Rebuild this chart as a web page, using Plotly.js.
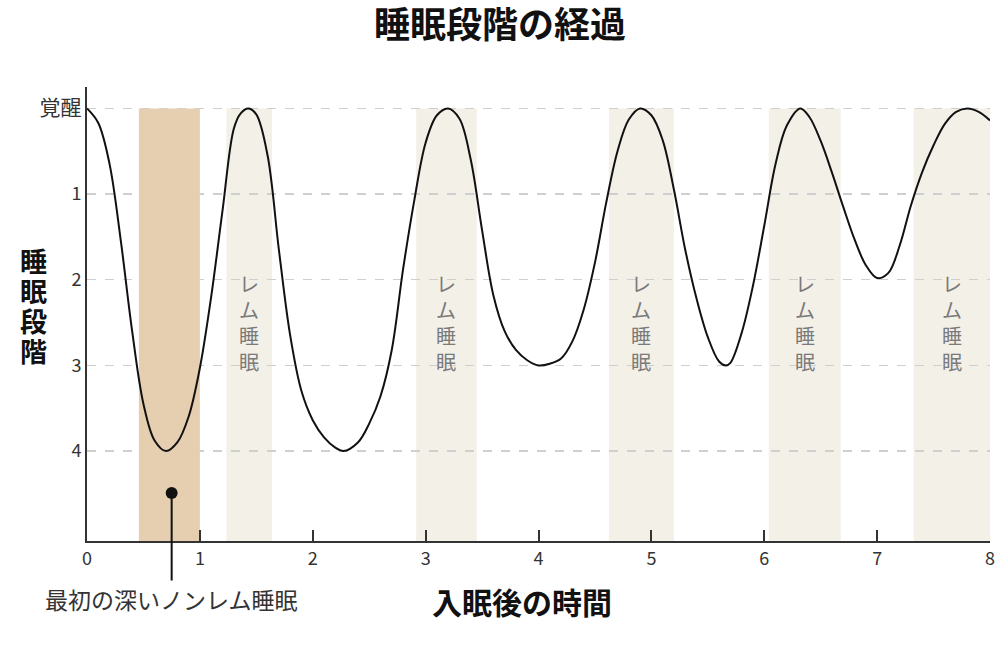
<!DOCTYPE html>
<html>
<head>
<meta charset="utf-8">
<script src="https://cdn.plot.ly/plotly-3.0.1.min.js"></script>
<style>
html,body{margin:0;padding:0;background:#fff;}
#chart{width:1000px;height:650px;}
</style>
</head>
<body>
<div id="chart"></div>
<script>
// ---- data ----
const hours = [0.0, 0.1, 0.2, 0.3, 0.4, 0.5, 0.6, 0.7, 0.8, 0.9,
               1.0, 1.1, 1.2, 1.3, 1.36, 1.43, 1.5, 1.6, 1.7, 1.8, 1.9,
               2.0, 2.1, 2.2, 2.27, 2.4, 2.5, 2.6, 2.7, 2.8, 2.9,
               3.0, 3.1, 3.2, 3.3, 3.4, 3.5, 3.6, 3.7, 3.8, 3.9,
               4.0, 4.1, 4.2, 4.3, 4.4, 4.5, 4.6, 4.7, 4.8, 4.9,
               5.0, 5.1, 5.2, 5.3, 5.4, 5.5, 5.6, 5.66, 5.7, 5.8, 5.9,
               6.0, 6.1, 6.2, 6.32, 6.4, 6.5, 6.6, 6.7, 6.8, 6.9,
               7.0, 7.1, 7.2, 7.3, 7.4, 7.5, 7.6, 7.7, 7.8, 7.9, 8.0];
const stage = [0.0, 0.17, 0.65, 1.55, 2.6, 3.45, 3.88, 4.0, 3.9, 3.6,
               3.03, 2.2, 1.2, 0.24, 0.06, 0.0, 0.07, 0.55, 1.65, 2.65, 3.3,
               3.64, 3.84, 3.96, 4.0, 3.9, 3.68, 3.36, 2.82, 1.88, 1.07,
               0.4, 0.08, 0.0, 0.12, 0.6, 1.42, 2.18, 2.6, 2.82, 2.94,
               3.0, 2.98, 2.92, 2.72, 2.35, 1.8, 1.1, 0.5, 0.13, 0.0,
               0.08, 0.37, 0.95, 1.65, 2.22, 2.67, 2.955, 3.0, 2.97, 2.62, 2.07,
               1.37, 0.65, 0.2, 0.0, 0.1, 0.38, 0.75, 1.15, 1.53, 1.83,
               1.98, 1.92, 1.6, 1.13, 0.74, 0.43, 0.18, 0.04, 0.0, 0.04, 0.14];

const remStart = [1.235, 2.916, 4.624, 6.04, 7.323];
const remEnd   = [1.64, 3.453, 5.199, 6.677, 8.0];
const remLabel = "レム睡眠";

const deepStart = 0.46;
const deepEnd = 1.0;
const deepLabel = "最初の深いノンレム睡眠";
const calloutX = [0.75];
const calloutY = [4.49];

const stageTickVals = [0, 1, 2, 3, 4];
const stageTickText = ["覚醒", "1", "2", "3", "4"];
const hourTickVals = [0, 1, 2, 3, 4, 5, 6, 7, 8];

const chartTitle = "睡眠段階の経過";
const xTitle = "入眠後の時間";
const yTitle = "睡眠段階";

// ---- layout helpers ----
const FONT = "'Noto Sans CJK JP', 'Noto Sans', sans-serif";
const yBottom = 5.05, yTop = -0.25;
const plotTop = 87, plotBottom = 541, plotLeft = 87, plotRight = 990;
const pyToPaper = py => (plotBottom - py) / (plotBottom - plotTop);
const pxToPaper = px => (px - plotLeft) / (plotRight - plotLeft);
const stacked = s => s.split("").join("<br>");

const shapes = [];
remStart.forEach((s, i) => {
  shapes.push({type: "rect", xref: "x", yref: "y", x0: s, x1: remEnd[i], y0: 0, y1: yBottom,
    fillcolor: "#f3f0e8", line: {width: 0}, layer: "below"});
});
shapes.push({type: "rect", xref: "x", yref: "y", x0: deepStart, x1: deepEnd, y0: 0, y1: yBottom,
  fillcolor: "#e6cfb0", line: {width: 0}, layer: "between"});

const annotations = [];
remStart.forEach((s, i) => {
  annotations.push({xref: "x", yref: "y", x: (s + remEnd[i]) / 2, y: 2.5,
    text: stacked(remLabel), showarrow: false, align: "center",
    font: {family: FONT, size: 20, color: "#7a7a7a"}});
});
annotations.push({xref: "x", yref: "y", x: calloutX[0], y: calloutY[0], text: deepLabel,
  showarrow: true, arrowhead: 0, arrowwidth: 2, arrowcolor: "#111", ax: 0, ay: 106, standoff: 0,
  font: {family: FONT, size: 23, color: "#333"}});
annotations.push({xref: "paper", yref: "paper", x: pxToPaper(522), y: pyToPaper(625), text: xTitle,
  showarrow: false, font: {family: FONT, size: 30, color: "#111", weight: "bold"}});
const yChars = yTitle.split("");
yChars.forEach((c, i) => {
  annotations.push({xref: "paper", yref: "paper", x: pxToPaper(18), y: pyToPaper(305),
    yshift: -(i - (yChars.length - 1) / 2) * 30,
    text: c, showarrow: false,
    font: {family: FONT, size: 27, color: "#111", weight: "bold"}});
});

const traces = [
  {x: hours, y: stage, type: "scatter", mode: "lines", line: {color: "#111", width: 2, shape: "spline", smoothing: 1}, hoverinfo: "skip"},
  {x: calloutX, y: calloutY, type: "scatter", mode: "markers", marker: {color: "#111", size: 12}, hoverinfo: "skip"}
];

const layout = {
  width: 1000, height: 650,
  margin: {l: plotLeft, r: 1000 - plotRight, t: plotTop, b: 650 - plotBottom},
  paper_bgcolor: "#fff", plot_bgcolor: "#fff",
  showlegend: false,
  title: {text: chartTitle, x: 0.5, xref: "container", xanchor: "center", y: 1 - 25 / 650, yref: "container", yanchor: "middle",
    font: {family: FONT, size: 36, color: "#111", weight: "bold"}},
  xaxis: {range: [0, 8.0], tickvals: hourTickVals, ticks: "inside", ticklen: 11, tickwidth: 2, tickcolor: "#333",
    showline: true, linecolor: "#333", linewidth: 2, showgrid: false, zeroline: false,
    tickfont: {family: FONT, size: 18, color: "#333"}, fixedrange: true},
  yaxis: {range: [yBottom, yTop], tickvals: stageTickVals,
    ticktext: stageTickText.map((t, i) => i === 0 ? '<span style="font-size:21px">' + t + '</span>' : t),
    ticks: "",
    showline: true, linecolor: "#333", linewidth: 2, showgrid: true, gridcolor: "#cfcfcf", gridwidth: 1.5, griddash: "dash",
    zeroline: false, tickfont: {family: FONT, size: 18, color: "#333"}, fixedrange: true},
  shapes: shapes,
  annotations: annotations
};

Plotly.newPlot("chart", traces, layout, {displayModeBar: false, staticPlot: true});
</script>
</body>
</html>
